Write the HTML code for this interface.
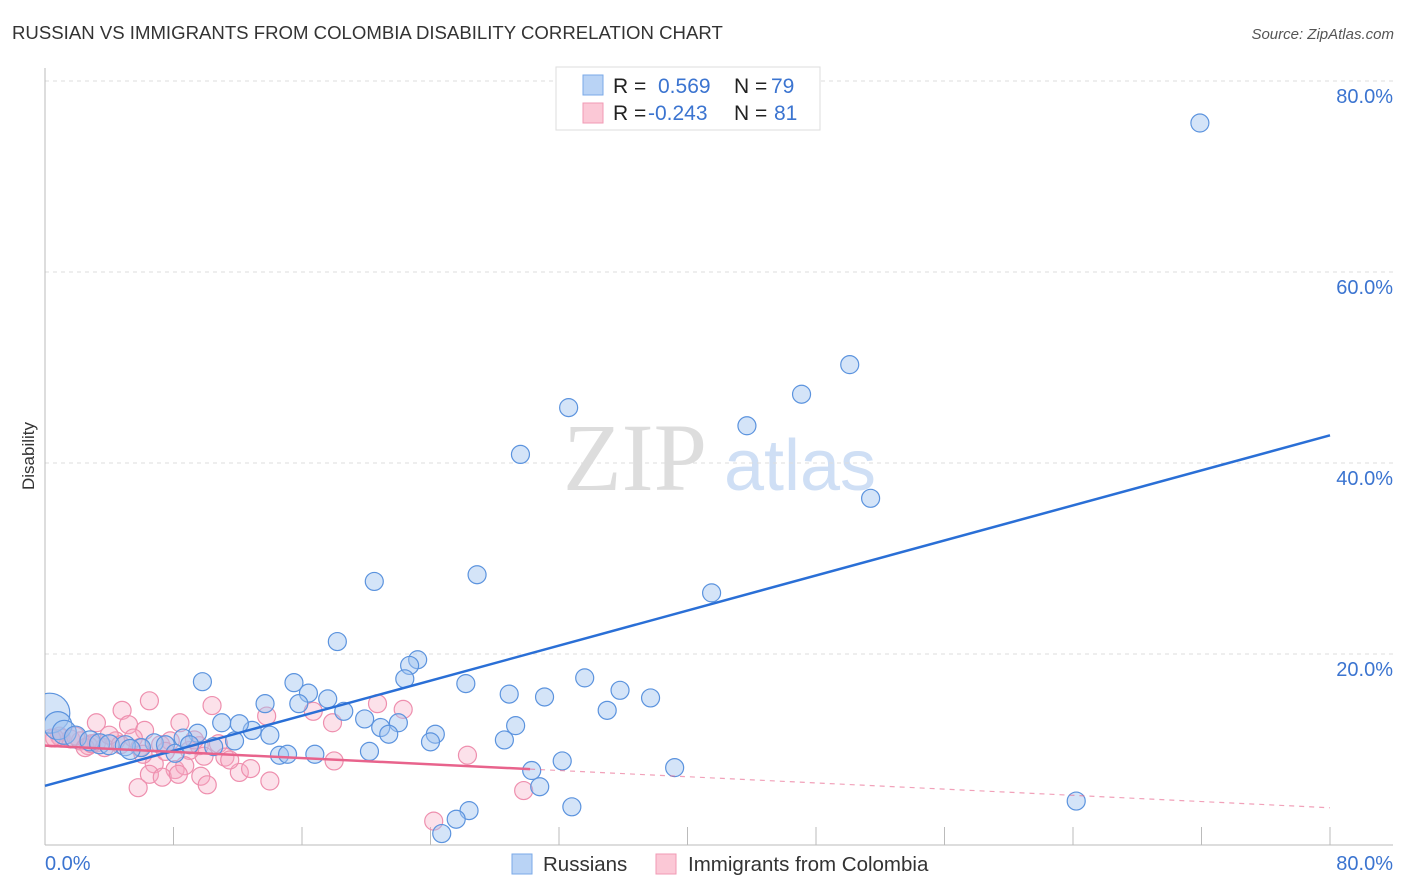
<!DOCTYPE html>
<html><head><meta charset="utf-8"><style>
body{margin:0;background:#fff;font-family:"Liberation Sans",sans-serif}
svg{display:block}
</style></head><body>
<svg id="c" width="1406" height="892">
<defs><clipPath id="plotclip"><rect x="45" y="60" width="1360" height="790"/></clipPath></defs>
<text x="12" y="39" font-size="18.6" fill="#333">RUSSIAN VS IMMIGRANTS FROM COLOMBIA DISABILITY CORRELATION CHART</text>
<text x="1394" y="39" font-size="15" font-style="italic" fill="#555" text-anchor="end">Source: ZipAtlas.com</text>
<text x="34" y="456" font-size="17" fill="#333" transform="rotate(-90 34 456)" text-anchor="middle">Disability</text>
<text x="635" y="490" font-size="96" font-family="Liberation Serif" fill="#ddd" text-anchor="middle">ZIP</text>
<text x="800" y="490" font-size="72" fill="#cfdff5" text-anchor="middle">atlas</text>
<g id="grid"></g><g id="pts" clip-path="url(#plotclip)"></g><g id="lines"></g>
<g>
<rect x="556" y="67" width="264" height="63" fill="#fff" stroke="#ddd"/>
<rect x="583" y="75" width="20" height="20" fill="#b9d3f5" stroke="#7aaae8"/>
<rect x="583" y="103" width="20" height="20" fill="#fbc8d6" stroke="#f09ab4"/>
<text x="613" y="93" font-size="21" fill="#222">R =</text><text x="658" y="93" font-size="21" fill="#3b74d0">0.569</text>
<text x="734" y="93" font-size="21" fill="#222">N =</text><text x="771" y="93" font-size="21" fill="#3b74d0">79</text>
<text x="613" y="120" font-size="21" fill="#222">R =</text><text x="648" y="120" font-size="21" fill="#3b74d0">-0.243</text>
<text x="734" y="120" font-size="21" fill="#222">N =</text><text x="774" y="120" font-size="21" fill="#3b74d0">81</text>
</g>
<g>
<rect x="512" y="854" width="20" height="20" fill="#b9d3f5" stroke="#7aaae8"/>
<text x="543" y="871" font-size="20.5" fill="#333">Russians</text>
<rect x="656" y="854" width="20" height="20" fill="#fbc8d6" stroke="#f09ab4"/>
<text x="688" y="871" font-size="20.5" fill="#333">Immigrants from Colombia</text>
</g>
</svg>
<script>
const yTicks=[20,40,60,80];
const xTickLabels=["0.0%","80.0%"];
const blueX=[71.9,50.1,47.1,32.6,43.7,29.6,51.4,26.9,20.5,41.5,18.2,23.2,22.7,33.6,9.8,22.4,26.2,15.5,35.8,16.4,28.9,31.1,37.7,17.6,13.7,15.8,35.0,18.6,19.9,12.9,11.0,12.1,9.5,22.0,20.9,29.3,24.3,21.4,14.0,8.6,6.8,7.5,6.0,11.8,24.0,28.6,14.6,15.1,16.8,20.2,32.2,39.2,30.3,30.8,32.8,64.2,26.4,25.6,24.7,0.3,0.8,1.2,1.9,2.8,3.4,4.0,5.0,5.3,8.1,9.0,10.5];
const blueY=[75.6,50.3,47.2,45.8,43.9,40.9,36.3,28.3,27.6,26.4,21.3,19.4,18.8,17.5,17.1,17.4,16.9,17.0,16.2,15.9,15.8,15.5,15.4,15.3,14.8,14.8,14.1,14.0,13.2,12.0,12.8,12.7,11.7,12.8,12.3,12.5,11.6,11.6,11.5,11.2,10.7,10.5,10.2,10.9,10.8,11.0,9.4,9.5,9.5,9.8,8.8,8.1,7.8,6.1,4.0,4.6,3.6,2.7,1.2,13.8,12.5,11.8,11.3,10.9,10.6,10.5,10.4,10.0,9.6,10.5,10.3];
const blueR=[9,9,9,9,9,9,9,9,9,9,9,9,9,9,9,9,9,9,9,9,9,9,9,9,9,9,9,9,9,9,9,9,9,9,9,9,9,9,9,9,9,9,9,9,9,9,9,9,9,9,9,9,9,9,9,9,9,9,9,20,14,12,11,10,10,10,10,10,9,9,9];
const pinkX=[6.5,10.4,3.2,4.8,8.4,13.8,16.7,20.7,22.3,5.2,6.2,3.2,4.4,0.9,1.6,2.2,2.7,3.7,5.5,7.2,7.8,9.6,10.8,11.2,9.9,9.0,6.8,8.1,8.7,6.5,7.3,8.3,9.7,12.1,12.8,10.1,14.0,5.8,17.9,18.0,26.3,29.8,24.2,1.0,0.6,0.4,1.9,2.5,2.9,4.0,4.7,5.9,7.5,9.3,11.5,6.1];
const pinkY=[15.1,14.6,12.8,14.1,12.8,13.5,14.0,14.8,14.2,12.6,12.0,10.7,10.9,11.4,11.1,10.9,10.4,10.2,11.2,10.5,10.9,10.4,10.6,9.2,9.3,9.9,8.5,7.9,8.3,7.4,7.1,7.4,7.2,7.6,8.0,6.3,6.7,6.0,12.8,8.8,9.4,5.7,2.5,11.2,11.2,11.2,11.4,10.2,10.6,11.5,10.5,10.2,9.8,11.0,8.9,9.5];
const blueLine=[6.2,42.9];
const pinkLine=[10.4,3.9];
const pinkSolidEnd=30.2;
const X=v=>45+v/80*1285, Y=v=>845-v/20*191;
const NS="http://www.w3.org/2000/svg";
function mk(t,a,p){const e=document.createElementNS(NS,t);for(const k in a)e.setAttribute(k,a[k]);p.appendChild(e);return e;}
const g=document.getElementById('grid');
yTicks.forEach(v=>{
 const l=mk('line',{x1:45,x2:1393,y1:Y(v),y2:Y(v),stroke:'#ddd','stroke-dasharray':'4 4'},g);
 
 
 const t=mk('text',{x:1393,y:Y(v)+22,'font-size':20,fill:'#3b74d0','text-anchor':'end'},g);
 t.textContent=v.toFixed(1)+'%';
 
 
});
const ax=mk('line',{x1:45,x2:1393,y1:845,y2:845,stroke:'#bbb'},g);


const ay=mk('line',{x1:45,x2:45,y1:68,y2:845,stroke:'#bbb'},g);


for(let i=1;i<=10;i++){const tk=mk('line',{x1:X(i*8),x2:X(i*8),y1:827,y2:845,stroke:'#bbb'},g);
 
 }
xTickLabels.forEach((s,i)=>{const t=mk('text',{x:i?1393:45,y:870,'font-size':20,fill:'#3b74d0','text-anchor':i?'end':'start'},g);t.textContent=s;
 
 });
const p=document.getElementById('pts');
pinkX.forEach((x,i)=>{const c=mk('circle',{cx:X(x),cy:Y(pinkY[i]),r:9,fill:'rgba(247,170,195,0.35)',stroke:'#ee8fae','stroke-width':1.2},p);
 
 });
blueX.forEach((x,i)=>{const c=mk('circle',{cx:X(x),cy:Y(blueY[i]),r:blueR[i],fill:'rgba(160,196,240,0.45)',stroke:'#5b93de','stroke-width':1.2},p);
 
 });
const L=document.getElementById('lines');
const bl=mk('line',{x1:X(0),y1:Y(blueLine[0]),x2:X(80),y2:Y(blueLine[1]),stroke:'#2a6fd6','stroke-width':2.5},L);


const pm=pinkLine[0]+(pinkLine[1]-pinkLine[0])*pinkSolidEnd/80;
const pl=mk('line',{x1:X(0),y1:Y(pinkLine[0]),x2:X(pinkSolidEnd),y2:Y(pm),stroke:'#e8638c','stroke-width':2.5},L);


const pd=mk('line',{x1:X(pinkSolidEnd),y1:Y(pm),x2:X(80),y2:Y(pinkLine[1]),stroke:'#e8638c','stroke-width':1.2,'stroke-dasharray':'5 5',opacity:0.6},L);


</script>
</body></html>
